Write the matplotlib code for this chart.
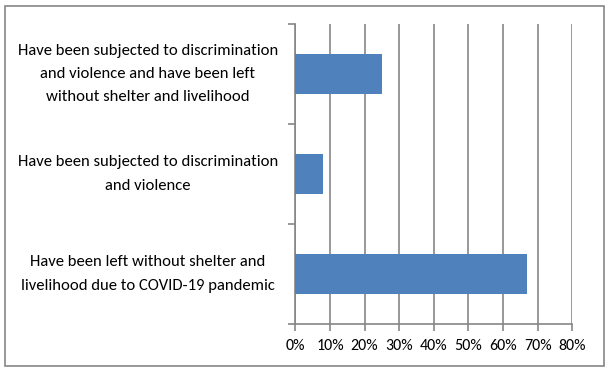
import numpy as np
import matplotlib.pyplot as plt
import matplotlib.transforms as mtransforms
from matplotlib.patches import Rectangle

categories = ["Have been left without shelter and\nlivelihood due to COVID-19 pandemic",
              "Have been subjected to discrimination\nand violence",
              "Have been subjected to discrimination\nand violence and have been left\nwithout shelter and livelihood"]
values = [67, 8, 25]
xticks = [0, 10, 20, 30, 40, 50, 60, 70, 80]

plt.rcParams['font.family'] = ['Carlito', 'Lato', 'DejaVu Sans']

fig = plt.figure(figsize=(6.1, 3.72), dpi=100)
ax = fig.add_axes([295.3/610, 1-324/372, 277/610, 300/372])

pos = np.arange(len(categories))
ax.barh(pos, values, height=0.4, color='#4F81BD', zorder=3)

ax.set_xlim(0, 80)
ax.set_ylim(-0.5, 2.5)
ax.set_xticks(xticks)
ax.set_xticklabels(["%d%%" % t for t in xticks], fontsize=11.5, color='black')
ax.xaxis.grid(True, color='#868686', linewidth=1.2, zorder=0)

ax.set_yticks([])
ax.set_yticks([-0.5, 0.5, 1.5, 2.5], minor=True)
ax.tick_params(axis='y', which='minor', length=5, color='#868686', width=1.2)
ax.tick_params(axis='x', length=5, color='#868686', width=1.2, pad=6)

for s in ['top', 'right']:
    ax.spines[s].set_visible(False)
for s in ['left', 'bottom']:
    ax.spines[s].set_color('#868686')
    ax.spines[s].set_linewidth(1.2)

trans = mtransforms.blended_transform_factory(fig.transFigure, ax.transData)
for p, lab in zip(pos, categories):
    ax.text(148/610, p, lab, transform=trans, ha='center', va='center',
            multialignment='center', fontsize=12, linespacing=1.85)

fig.patches.append(Rectangle((5/610, 6/372), 599/610, 360/372, transform=fig.transFigure,
                             fill=False, edgecolor='#868686', linewidth=1.2))

fig.savefig('out.png', dpi=100)
